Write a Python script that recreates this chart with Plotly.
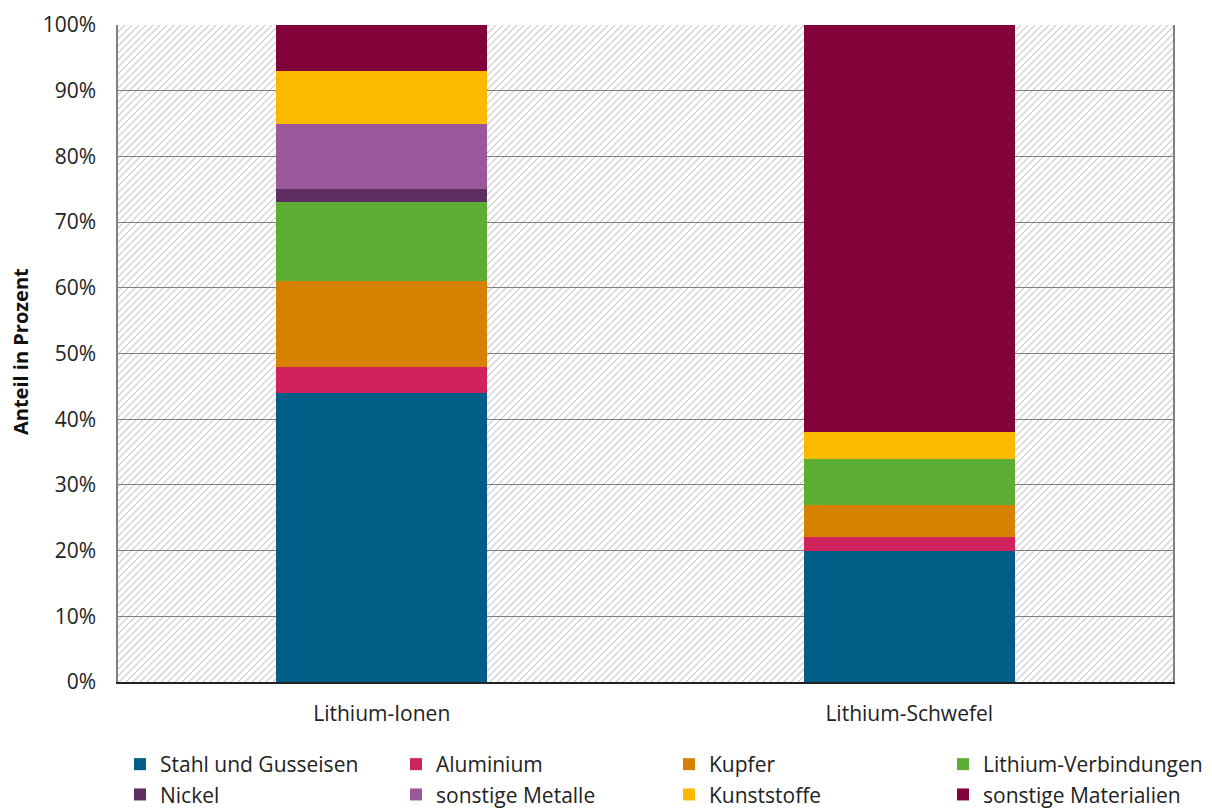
import base64
import plotly.graph_objects as go

categories = ["Lithium-Ionen", "Lithium-Schwefel"]
series_names = ["Stahl und Gusseisen", "Aluminium", "Kupfer", "Lithium-Verbindungen",
                "Nickel", "sonstige Metalle", "Kunststoffe", "sonstige Materialien"]
stahl = [44, 20]
aluminium = [4, 2]
kupfer = [13, 5]
lithium_verb = [12, 7]
nickel = [2, 0]
sonst_metalle = [10, 0]
kunststoffe = [8, 4]
sonst_material = [7, 62]
y_ticks = [0, 10, 20, 30, 40, 50, 60, 70, 80, 90, 100]
y_tick_labels = [f"{v}%" for v in y_ticks]

series_values = [stahl, aluminium, kupfer, lithium_verb, nickel, sonst_metalle, kunststoffe, sonst_material]
colors = ["#025E86", "#D0225D", "#D68200", "#5DAD35", "#5E2D61", "#9B599C", "#FBBA00", "#82033A"]

FONT = "Open Sans"
W, H = 1212, 808
ML, MR, MT, MB = 118, 39, 25, 126
PW, PH = W - ML - MR, H - MT - MB

def px_x(px):
    return (px - ML) / PW

def px_y(py):
    return (H - MB - py) / PH

# hatch background as svg image (drawn below gridlines)
svg = (f'<svg xmlns="http://www.w3.org/2000/svg" width="{PW}" height="{PH}">'
       '<defs><pattern id="h" patternUnits="userSpaceOnUse" width="7" height="7">'
       '<path d="M-1,1 l2,-2 M0,7 l7,-7 M6,8 l2,-2" stroke="#c8c8c8" stroke-width="1.1"/>'
       '</pattern></defs>'
       f'<rect width="{PW}" height="{PH}" fill="white"/>'
       f'<rect width="{PW}" height="{PH}" fill="url(#h)"/></svg>')
svg_uri = "data:image/svg+xml;base64," + base64.b64encode(svg.encode()).decode()

fig = go.Figure()

# legend layout: 4 columns x 2 rows (row-wise order)
col_px = [120, 396, 669, 943]
xpos = list(range(len(categories)))
for i, (name, vals, col) in enumerate(zip(series_names, series_values, colors)):
    c = i % 4
    leg = "legend" if c == 0 else f"legend{c + 1}"
    fig.add_trace(go.Bar(
        x=xpos, y=vals, name=name, width=0.4, xaxis="x", yaxis="y",
        marker=dict(color=col, line=dict(width=0)),
        legend=leg, legendgroup=name,
    ))

legend_common = dict(orientation="v", yanchor="top", y=px_y(744), xanchor="left",
                     font=dict(size=21, family=FONT, color="#222222"),
                     tracegroupgap=0, bgcolor="rgba(0,0,0,0)", borderwidth=0,
                     itemwidth=30, traceorder="grouped")

layout_legends = {}
for c in range(4):
    key = "legend" if c == 0 else f"legend{c + 1}"
    layout_legends[key] = dict(legend_common, x=px_x(col_px[c]))

fig.update_layout(
    width=W, height=H,
    margin=dict(l=ML, r=MR, t=MT, b=MB, autoexpand=False),
    barmode="stack",
    paper_bgcolor="white", plot_bgcolor="rgba(0,0,0,0)",
    font=dict(family=FONT, size=21, color="#222222"),
    xaxis=dict(range=[-0.5, 1.5], tickvals=xpos, ticktext=categories,
               ticks="", showgrid=False, showline=True, linecolor="#222222", linewidth=2,
               zeroline=False, ticklabelstandoff=12,
               tickfont=dict(size=21, family=FONT, color="#222222")),
    xaxis2=dict(range=[-0.5, 1.5], overlaying="x", anchor="y", side="bottom",
                tickvals=[-0.5, 0.5, 1.5], ticktext=["", "", ""],
                ticks="outside", ticklen=8, tickcolor="#222222", tickwidth=2,
                showgrid=True, gridcolor="#808080", gridwidth=1,
                showline=False, zeroline=False),
    yaxis=dict(range=[0, 100], tickvals=y_ticks, ticktext=y_tick_labels, showgrid=True,
               gridcolor="#808080", gridwidth=1.2, showline=True, linecolor="#808080",
               linewidth=1.5, mirror=True, zeroline=False, ticks="", ticklabelstandoff=16,
               tickfont=dict(size=21, family=FONT, color="#222222")),
    images=[dict(source=svg_uri, xref="paper", yref="paper", x=0, y=1, sizex=1, sizey=1,
                 xanchor="left", yanchor="top", sizing="stretch", layer="below")],
    annotations=[dict(text="<b>Anteil in Prozent</b>", xref="paper", yref="paper",
                      x=px_x(20), y=px_y(352), xanchor="center", yanchor="middle",
                      textangle=-90, showarrow=False,
                      font=dict(size=20, family=FONT, color="#111111"))],
    **layout_legends,
)

fig.write_html("out.html", config={"displayModeBar": False},
               post_script="document.body.style.margin='0';")
